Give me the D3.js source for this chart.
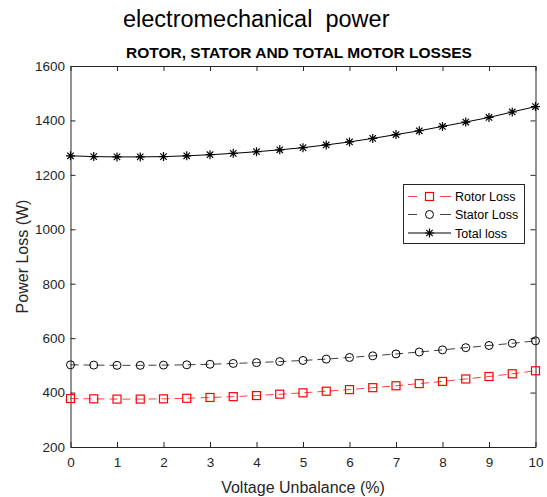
<!DOCTYPE html>
<html><head><meta charset="utf-8">
<script src="https://cdn.jsdelivr.net/npm/d3@7"></script>
<style>body{margin:0;background:#fff}text{font-family:"Liberation Sans",Arial,sans-serif}</style>
</head><body>
<svg id="c" width="547" height="497"></svg>
<script>
const xVals = [0,0.5,1,1.5,2,2.5,3,3.5,4,4.5,5,5.5,6,6.5,7,7.5,8,8.5,9,9.5,10];
const rotorLoss = [378,377,376,376,377,379,382,385,389,394,399,405,411,418,425,433,441,450,459,469,480];
const statorLoss = [502,501,500,500,501,502,504,507,510,514,518,523,529,535,542,549,557,565,573,581,590];
const totalLoss = [1270,1267,1266,1266,1267,1270,1274,1279,1285,1292,1300,1310,1321,1334,1348,1362,1378,1394,1411,1431,1451];
const xTicks = [0,1,2,3,4,5,6,7,8,9,10];
const yTicks = [200,400,600,800,1000,1200,1400,1600];
const seriesNames = ["Rotor Loss","Stator Loss","Total loss"];

const svg = d3.select("#c");
const L=70.5, R=535.5, T=66, B=447;
const x = d3.scaleLinear().domain([0,10]).range([L,R]);
const y = d3.scaleLinear().domain([200,1600]).range([B,T]);
const axCol = "#262626";

const tickLen = 5;
const gB = svg.append("g").attr("transform",`translate(0,${B})`)
  .call(d3.axisBottom(x).tickValues(xTicks).tickSizeInner(-tickLen).tickSizeOuter(0).tickPadding(10).tickFormat(d3.format("d")));
const gT = svg.append("g").attr("transform",`translate(0,${T})`)
  .call(d3.axisTop(x).tickValues(xTicks).tickSizeInner(-tickLen).tickSizeOuter(0).tickFormat(""));
const gL = svg.append("g").attr("transform",`translate(${L},0)`)
  .call(d3.axisLeft(y).tickValues(yTicks).tickSizeInner(-tickLen).tickSizeOuter(0).tickPadding(5.5).tickFormat(d3.format("d")));
const gR = svg.append("g").attr("transform",`translate(${R},0)`)
  .call(d3.axisRight(y).tickValues(yTicks).tickSizeInner(-tickLen).tickSizeOuter(0).tickFormat(""));
[gB,gT,gL,gR].forEach(g=>{
  g.select(".domain").attr("stroke",axCol).attr("stroke-width",1);
  g.selectAll(".tick line").attr("stroke",axCol);
  g.selectAll(".tick text").attr("fill",axCol).style("font-size","13.5px").style("font-family","'Liberation Sans',Arial,sans-serif");
});

const line = d3.line().x(d=>x(d[0])).y(d=>y(d[1]));
const plotG = svg.append("g");

function drawSeries(vals, color, dash, marker){
  const pts = xVals.map((v,i)=>[v,vals[i]]);
  plotG.append("path").datum(pts).attr("d",line).attr("fill","none")
    .attr("stroke",color).attr("stroke-width",1).attr("stroke-dasharray",dash||null)
    .attr("stroke-opacity", dash?0.75:1);
  const mg = plotG.append("g");
  pts.forEach(p=>marker(mg, x(p[0]), y(p[1])));
}
function sq(g,cx,cy){ g.append("rect").attr("x",cx-4).attr("y",cy-4).attr("width",8).attr("height",8).attr("fill","none").attr("stroke","#ff0000").attr("stroke-width",1.2); }
function circ(g,cx,cy){ g.append("circle").attr("cx",cx).attr("cy",cy).attr("r",4).attr("fill","none").attr("stroke","#000").attr("stroke-width",1); }
function star(g,cx,cy){
  const s=4.5, d=3.2;
  g.append("path").attr("d",`M${cx-s},${cy}H${cx+s}M${cx},${cy-s}V${cy+s}M${cx-d},${cy-d}L${cx+d},${cy+d}M${cx-d},${cy+d}L${cx+d},${cy-d}`)
   .attr("stroke","#000").attr("stroke-width",1.2).attr("fill","none");
}
drawSeries(rotorLoss,"#ff0000","8,5",sq);
drawSeries(statorLoss,"#000000","8,5",circ);
drawSeries(totalLoss,"#000000",null,star);

// legend
const lg = svg.append("g");
lg.append("rect").attr("x",403.5).attr("y",184.5).attr("width",121).attr("height",59).attr("fill","#fff").attr("stroke",axCol).attr("stroke-width",1);
const legY=[196.5,214.5,233];
const legCols=["#ff0000","#000000","#000000"];
const legDash=["9,23,11","9,23,11",null];
const legMk=[sq,circ,star];
seriesNames.forEach((n,i)=>{
  lg.append("line").attr("x1",408).attr("x2",451).attr("y1",legY[i]).attr("y2",legY[i])
    .attr("stroke",legCols[i]).attr("stroke-width",1).attr("stroke-dasharray",legDash[i]).attr("stroke-opacity",legDash[i]?0.75:1);
  legMk[i](lg,429.5,legY[i]);
  lg.append("text").attr("x",455).attr("y",legY[i]+4.5).attr("fill","#000").style("font-size","12.5px").text(n);
});

// titles & labels
svg.append("text").attr("x",123).attr("y",27).attr("fill","#000").style("font-size","23.5px").attr("xml:space","preserve").style("white-space","pre").text("electromechanical  power");
svg.append("text").attr("x",(L+R)/2-4).attr("y",58).attr("text-anchor","middle").attr("fill","#000").style("font-size","15.5px").style("font-weight","bold").text("ROTOR, STATOR AND TOTAL MOTOR LOSSES");
svg.append("text").attr("x",(L+R)/2).attr("y",493).attr("text-anchor","middle").attr("fill",axCol).style("font-size","16px").text("Voltage Unbalance (%)");
svg.append("text").attr("transform",`translate(27.5,${(T+B)/2}) rotate(-90)`).attr("text-anchor","middle").attr("fill",axCol).style("font-size","16px").text("Power Loss (W)");
</script>
</body></html>
